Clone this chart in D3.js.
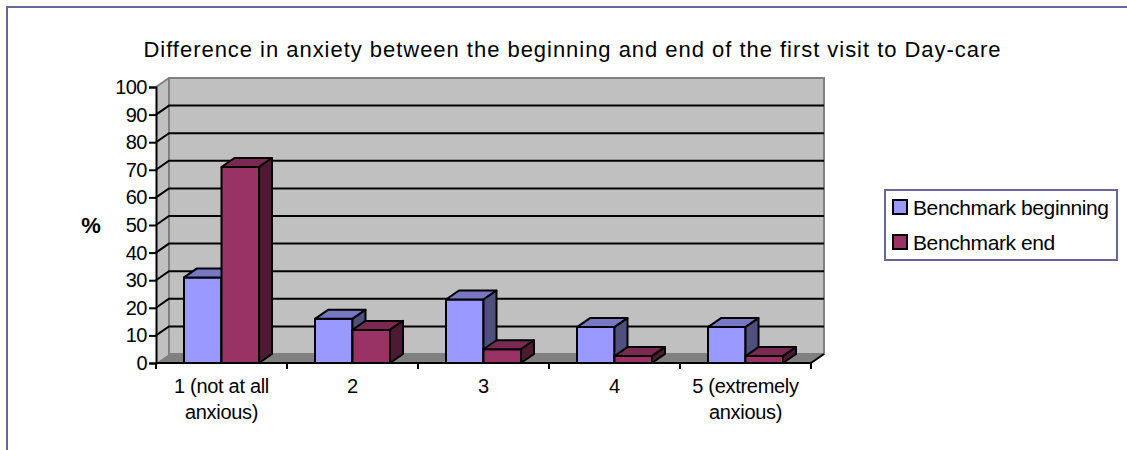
<!DOCTYPE html>
<html lang="en">
<head>
<meta charset="UTF-8">
<title>anxiety</title>
<script src="https://d3js.org/d3.v7.min.js"></script>
<style>
    html, body { margin: 0; padding: 0; background: #fff; overflow: hidden; }
    text { font-family: "Liberation Sans", Arial, sans-serif; fill: #000; }
    svg { display: block; }
</style>
</head>
<body>
<script>
// values
var categories = ["1", "2", "3", "4", "5"];
var categoryLines = [["1 (not at all", "anxious)"], ["2"], ["3"], ["4"], ["5 (extremely", "anxious)"]];
var seriesNames = ["Benchmark beginning", "Benchmark end"];
var beginning = [31, 16, 23, 13, 13];
var end = [71, 12, 5, 2.5, 2.5];
var yTicks = [0, 10, 20, 30, 40, 50, 60, 70, 80, 90, 100];
var title = "Difference in anxiety between the beginning and end of the first visit to Day-care";

var width = 1127, height = 450;
var dx = 13, dy = -9;   // the fake 3d depth
var frame = "#666699";

var colors = [
    { front: "#9999ff", top: "#7777c2", side: "#50507f" },
    { front: "#993366", top: "#7a2952", side: "#4d1a33" }
];

var svg = d3.select("body").append("svg")
    .attr("width", width)
    .attr("height", height);

svg.append("rect")
    .attr("x", 7).attr("y", 7)
    .attr("width", 1300).attr("height", 600)
    .attr("fill", "#fff")
    .attr("stroke", frame)
    .attr("stroke-width", 2);

svg.append("text")
    .attr("x", 572).attr("y", 57)
    .attr("text-anchor", "middle")
    .style("font-size", "22px")
    .attr("textLength", 857)
    .text(title);

var x = d3.scaleBand().domain(categories).range([156, 811]);
var xInner = d3.scaleBand().domain(seriesNames).range([28, 103]);
var y = d3.scaleLinear().domain([0, 100]).range([363, 87]);

function poly(pts) {
    return pts.map(function (p) { return p.join(","); }).join(" ");
}

var x0 = x.range()[0], x1 = x.range()[1], y0 = y(0), y1 = y(100);

// side wall, back wall, floor
svg.append("polygon")
    .attr("points", poly([[x0, y0], [x0 + dx, y0 + dy], [x0 + dx, y1 + dy], [x0, y1]]))
    .attr("fill", "#c0c0c0");
svg.append("rect")
    .attr("x", x0 + dx).attr("y", y1 + dy)
    .attr("width", x1 - x0).attr("height", y0 - y1)
    .attr("fill", "#c0c0c0")
    .attr("stroke", "#808080")
    .attr("stroke-width", 2);
svg.append("polygon")
    .attr("points", poly([[x0, y0], [x0 + dx, y0 + dy], [x1 + dx, y0 + dy], [x1, y0]]))
    .attr("fill", "#808080");

// gridlines go round the side wall and along the back
var inner = yTicks.filter(function (d) { return d > 0 && d < 100; });
svg.append("g").selectAll("polyline")
    .data(inner)
    .enter().append("polyline")
    .attr("points", function (d) {
        return poly([[x0, y(d)], [x0 + dx, y(d) + dy], [x1 + dx, y(d) + dy]]);
    })
    .attr("fill", "none")
    .attr("stroke", "#000")
    .attr("stroke-width", 2);

svg.append("line")
    .attr("x1", x0).attr("y1", y1).attr("x2", x0 + dx).attr("y2", y1 + dy)
    .attr("stroke", "#808080").attr("stroke-width", 2);
svg.append("line")
    .attr("x1", x1).attr("y1", y0).attr("x2", x1 + dx).attr("y2", y0 + dy)
    .attr("stroke", "#000").attr("stroke-width", 2);

// bars
var table = categories.map(function (c, i) {
    return [
        { cat: c, name: seriesNames[0], value: beginning[i], color: colors[0] },
        { cat: c, name: seriesNames[1], value: end[i], color: colors[1] }
    ];
});

var groups = svg.append("g").selectAll("g")
    .data(table)
    .enter().append("g")
    .attr("transform", function (d) { return "translate(" + x(d[0].cat) + ",0)"; });

var bars = groups.selectAll("g")
    .data(function (d) { return d; })
    .enter().append("g")
    .attr("stroke", "#000")
    .attr("stroke-width", 2)
    .attr("stroke-linejoin", "round");

bars.append("rect")
    .attr("x", function (d) { return xInner(d.name); })
    .attr("y", function (d) { return y(d.value); })
    .attr("width", xInner.bandwidth())
    .attr("height", function (d) { return y0 - y(d.value); })
    .attr("fill", function (d) { return d.color.front; });

bars.append("polygon")
    .attr("points", function (d) {
        var l = xInner(d.name), r = l + xInner.bandwidth(), t = y(d.value);
        return poly([[l, t], [l + dx, t + dy], [r + dx, t + dy], [r, t]]);
    })
    .attr("fill", function (d) { return d.color.top; });

bars.append("polygon")
    .attr("points", function (d) {
        var r = xInner(d.name) + xInner.bandwidth(), t = y(d.value);
        return poly([[r, t], [r + dx, t + dy], [r + dx, y0 + dy], [r, y0]]);
    })
    .attr("fill", function (d) { return d.color.side; });

// axes
var yAxis = svg.append("g")
    .attr("transform", "translate(" + x0 + ",0)")
    .call(d3.axisLeft(y).tickValues(yTicks).tickSize(7).tickPadding(2));
yAxis.selectAll("path").attr("stroke", "#000").attr("stroke-width", 2);
yAxis.selectAll("line").attr("stroke", "#000").attr("stroke-width", 2);
yAxis.selectAll("text")
    .attr("font-family", null)
    .style("font-size", "20px")
    .style("letter-spacing", "-0.5px");

svg.append("line")
    .attr("x1", x0).attr("y1", y0).attr("x2", x1).attr("y2", y0)
    .attr("stroke", "#000").attr("stroke-width", 2);

svg.append("g").selectAll("line")
    .data(categories.concat(["end"]))
    .enter().append("line")
    .attr("x1", function (d) { return d === "end" ? x1 : x(d); })
    .attr("x2", function (d) { return d === "end" ? x1 : x(d); })
    .attr("y1", y0)
    .attr("y2", y0 + 6)
    .attr("stroke", "#000")
    .attr("stroke-width", 2);

var xLabels = svg.append("g").selectAll("text")
    .data(categories)
    .enter().append("text")
    .attr("text-anchor", "middle")
    .style("font-size", "20px")
    .style("letter-spacing", "-0.3px");

xLabels.selectAll("tspan")
    .data(function (d, i) {
        return categoryLines[i].map(function (line, j) {
            return { cat: d, line: line, row: j };
        });
    })
    .enter().append("tspan")
    .attr("x", function (d) { return x(d.cat) + x.bandwidth() / 2; })
    .attr("y", function (d) { return 393 + d.row * 26; })
    .text(function (d) { return d.line; });

svg.append("text")
    .attr("x", 91).attr("y", 233)
    .attr("text-anchor", "middle")
    .style("font-size", "22px")
    .style("font-weight", "bold")
    .text("%");

// legend
var legend = svg.append("g");
legend.append("rect")
    .attr("x", 885).attr("y", 190)
    .attr("width", 232).attr("height", 70)
    .attr("fill", "#fff")
    .attr("stroke", frame)
    .attr("stroke-width", 2);

var items = legend.selectAll("g")
    .data(seriesNames)
    .enter().append("g")
    .attr("transform", function (d, i) { return "translate(0," + (i * 35) + ")"; });

items.append("rect")
    .attr("x", 893).attr("y", 200)
    .attr("width", 14).attr("height", 14)
    .attr("fill", function (d, i) { return colors[i].front; })
    .attr("stroke", "#000")
    .attr("stroke-width", 2);

items.append("text")
    .attr("x", 913).attr("y", 215)
    .style("font-size", "21px")
    .style("letter-spacing", "-0.4px")
    .text(function (d) { return d; });
</script>
</body>
</html>
